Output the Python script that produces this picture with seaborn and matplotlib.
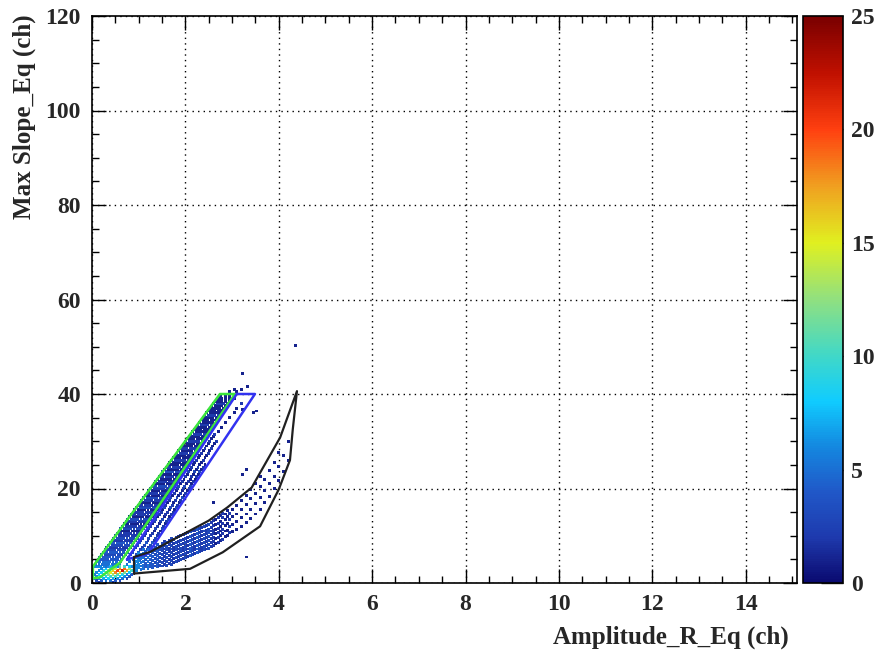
import numpy as np
import pandas as pd
import matplotlib
matplotlib.use("Agg")
import matplotlib.pyplot as plt
import seaborn as sns
from matplotlib.colors import LinearSegmentedColormap, Normalize
from matplotlib.cm import ScalarMappable
from matplotlib.ticker import MultipleLocator

# ---------------- data ----------------
# main (diagonal) band: one row per Max-Slope bin, amplitudes of the filled cells
main_y_levels = [3.5, 4.0, 4.5, 5.0, 5.5, 6.0, 6.5, 7.0, 7.5, 8.0, 8.5, 9.0, 9.5, 10.0,
                 10.5, 11.0, 11.5, 12.0, 12.5, 13.0, 13.5, 14.0, 14.5, 15.0, 15.5,
                 16.0, 16.5, 17.0, 17.5, 18.0, 18.5, 19.0, 19.5, 20.0, 20.5, 21.0,
                 21.5, 22.0, 22.5, 23.0, 23.5, 24.0, 24.5, 25.0,
                 25.5, 26.0, 26.5, 27.0, 27.5, 28.0, 28.5, 29.0, 29.5, 30.0,
                 30.5, 31.0, 31.5, 32.0, 32.5, 33.0, 33.5, 34.0, 34.5, 35.0, 35.5,
                 36.0, 36.5, 37.0, 37.5, 38.0, 38.5, 39.0, 39.5, 40.0, 40.5, 41.0]
main_x_rows = [
    [0.05, 0.12, 0.19, 0.26, 0.33, 0.40, 0.47, 0.56, 0.70, 0.85],
    [0.08, 0.15, 0.22, 0.29, 0.36, 0.43, 0.50, 0.60, 0.75, 0.92],
    [0.10, 0.17, 0.24, 0.31, 0.38, 0.45, 0.52, 0.62, 0.80, 0.98],
    [0.13, 0.20, 0.27, 0.34, 0.41, 0.48, 0.55, 0.64, 0.75, 0.88, 1.02],
    [0.17, 0.24, 0.31, 0.38, 0.45, 0.52, 0.59, 0.68, 0.78, 0.92, 1.08],
    [0.21, 0.28, 0.35, 0.42, 0.49, 0.56, 0.63, 0.72, 0.82, 0.95, 1.12],
    [0.25, 0.32, 0.39, 0.46, 0.53, 0.60, 0.67, 0.76, 0.86, 1.00, 1.15],
    [0.28, 0.35, 0.42, 0.49, 0.56, 0.63, 0.70, 0.79, 0.90, 1.04, 1.18],
    [0.32, 0.39, 0.46, 0.53, 0.60, 0.67, 0.74, 0.83, 0.94, 1.08, 1.22],
    [0.36, 0.43, 0.50, 0.57, 0.64, 0.71, 0.78, 0.87, 0.98, 1.12, 1.26],
    [0.40, 0.47, 0.54, 0.61, 0.68, 0.75, 0.82, 0.90, 1.02, 1.16, 1.30],
    [0.43, 0.50, 0.57, 0.64, 0.71, 0.78, 0.85, 0.93, 1.05, 1.20, 1.33],
    [0.47, 0.54, 0.61, 0.68, 0.75, 0.82, 0.89, 0.97, 1.08, 1.22, 1.36],
    [0.51, 0.58, 0.65, 0.72, 0.79, 0.86, 0.93, 1.00, 1.12, 1.26, 1.40],
    [0.55, 0.62, 0.69, 0.76, 0.83, 0.90, 0.97, 1.04, 1.15, 1.30, 1.43],
    [0.58, 0.65, 0.72, 0.79, 0.86, 0.93, 1.00, 1.07, 1.18, 1.33, 1.46],
    [0.62, 0.69, 0.76, 0.83, 0.90, 0.97, 1.04, 1.11, 1.22, 1.36, 1.50],
    [0.66, 0.73, 0.80, 0.87, 0.94, 1.01, 1.08, 1.15, 1.26, 1.40, 1.53],
    [0.70, 0.77, 0.84, 0.91, 0.98, 1.05, 1.12, 1.19, 1.30, 1.44, 1.57],
    [0.73, 0.80, 0.87, 0.94, 1.01, 1.08, 1.15, 1.22, 1.33, 1.47, 1.60],
    [0.77, 0.84, 0.91, 0.98, 1.05, 1.12, 1.19, 1.26, 1.37, 1.50, 1.64],
    [0.81, 0.88, 0.95, 1.02, 1.09, 1.16, 1.23, 1.30, 1.40, 1.55, 1.67],
    [0.85, 0.92, 0.99, 1.06, 1.13, 1.20, 1.27, 1.34, 1.44, 1.58, 1.70],
    [0.88, 0.95, 1.02, 1.09, 1.16, 1.23, 1.30, 1.37, 1.48, 1.62, 1.74],
    [0.92, 0.99, 1.06, 1.13, 1.20, 1.27, 1.34, 1.41, 1.52, 1.65, 1.77],
    [0.96, 1.03, 1.10, 1.17, 1.24, 1.31, 1.38, 1.44, 1.55, 1.68, 1.80],
    [1.00, 1.07, 1.14, 1.21, 1.28, 1.35, 1.42, 1.48, 1.58, 1.72, 1.84],
    [1.03, 1.10, 1.17, 1.24, 1.31, 1.38, 1.45, 1.51, 1.62, 1.75, 1.87],
    [1.07, 1.14, 1.21, 1.28, 1.35, 1.42, 1.49, 1.55, 1.66, 1.79, 1.90],
    [1.11, 1.18, 1.25, 1.32, 1.39, 1.46, 1.53, 1.58, 1.69, 1.82, 1.94],
    [1.15, 1.22, 1.29, 1.36, 1.43, 1.50, 1.57, 1.62, 1.72, 1.86, 1.97],
    [1.18, 1.25, 1.32, 1.39, 1.46, 1.53, 1.60, 1.65, 1.76, 1.89, 2.00],
    [1.22, 1.29, 1.36, 1.43, 1.50, 1.57, 1.64, 1.69, 1.80, 1.93, 2.04],
    [1.26, 1.33, 1.40, 1.47, 1.54, 1.61, 1.68, 1.72, 1.83, 1.96, 2.08],
    [1.30, 1.37, 1.44, 1.51, 1.58, 1.65, 1.72, 1.76, 1.86, 1.99, 2.11],
    [1.33, 1.40, 1.47, 1.54, 1.61, 1.68, 1.75, 1.79, 1.90, 2.03, 2.14],
    [1.37, 1.44, 1.51, 1.58, 1.65, 1.72, 1.79, 1.83, 1.93, 2.06, 2.18],
    [1.41, 1.48, 1.55, 1.62, 1.69, 1.76, 1.83, 1.86, 1.97, 2.10, 2.21],
    [1.45, 1.52, 1.59, 1.66, 1.73, 1.80, 1.87, 1.90, 2.00, 2.13, 2.24],
    [1.48, 1.55, 1.62, 1.69, 1.76, 1.83, 1.90, 1.93, 2.04, 2.17, 2.28],
    [1.52, 1.59, 1.66, 1.73, 1.80, 1.87, 1.94, 1.97, 2.07, 2.20, 2.31],
    [1.56, 1.63, 1.70, 1.77, 1.84, 1.91, 1.97, 2.00, 2.11, 2.24, 2.35],
    [1.60, 1.67, 1.74, 1.81, 1.88, 1.95, 2.01, 2.04, 2.14, 2.27, 2.38],
    [1.63, 1.70, 1.77, 1.84, 1.91, 1.98, 2.04, 2.07, 2.18, 2.31, 2.42],
    [1.67, 1.74, 1.81, 1.88, 1.95, 2.02, 2.08, 2.20, 2.34],
    [1.71, 1.78, 1.85, 1.92, 1.99, 2.06, 2.12, 2.24, 2.38],
    [1.74, 1.81, 1.88, 1.95, 2.02, 2.09, 2.15, 2.28, 2.42],
    [1.78, 1.85, 1.92, 1.99, 2.06, 2.13, 2.19, 2.31, 2.45],
    [1.82, 1.89, 1.96, 2.03, 2.10, 2.17, 2.22, 2.35, 2.49],
    [1.86, 1.93, 2.00, 2.07, 2.14, 2.21, 2.26, 2.38, 2.52],
    [1.89, 1.96, 2.03, 2.10, 2.17, 2.24, 2.29, 2.42, 2.56],
    [1.93, 2.00, 2.07, 2.14, 2.21, 2.28, 2.33, 2.45, 2.59],
    [1.97, 2.04, 2.11, 2.18, 2.25, 2.32, 2.36, 2.49, 2.62],
    [2.01, 2.08, 2.15, 2.22, 2.29, 2.36, 2.40, 2.52, 2.66],
    [2.04, 2.11, 2.18, 2.25, 2.32, 2.39, 2.56],
    [2.08, 2.15, 2.22, 2.29, 2.36, 2.43, 2.60],
    [2.12, 2.19, 2.26, 2.33, 2.40, 2.47, 2.63],
    [2.16, 2.23, 2.30, 2.37, 2.44, 2.50, 2.70],
    [2.19, 2.26, 2.33, 2.40, 2.47, 2.54],
    [2.23, 2.30, 2.37, 2.44, 2.51, 2.58, 2.78],
    [2.27, 2.34, 2.41, 2.48, 2.55, 2.62],
    [2.31, 2.38, 2.45, 2.52, 2.59, 2.66, 2.85],
    [2.34, 2.41, 2.48, 2.55, 2.62, 2.69],
    [2.38, 2.45, 2.52, 2.59, 2.66, 2.73, 2.95],
    [2.42, 2.49, 2.56, 2.63, 2.70, 2.77],
    [2.46, 2.53, 2.60, 2.67, 2.74, 2.81, 3.05],
    [2.49, 2.56, 2.63, 2.70, 2.78],
    [2.53, 2.60, 2.67, 2.74, 2.82, 3.10],
    [2.57, 2.64, 2.71, 2.78, 2.86],
    [2.61, 2.68, 2.75, 2.82, 2.90, 3.20],
    [2.64, 2.71, 2.78, 2.86, 2.94],
    [2.70, 2.78, 2.86, 2.95, 3.05],
    [2.75, 2.85, 2.95, 3.05],
    [2.82, 2.92, 3.02, 3.12],
    [2.95, 3.10],
    [3.05, 3.20],
]
main_counts = [6, 5, 5, 4, 4,
               3, 4, 3, 2, 3, 4, 2, 3, 2,
               2, 1, 3, 2, 1, 2, 3, 1, 2, 2, 1, 3, 2, 1, 2,
               3, 1, 2, 1, 2, 3, 1, 2, 1, 2, 1, 3, 1, 2, 1,
               1, 2, 1, 1, 2, 1, 2, 1, 1, 2,
               1, 1, 2, 1, 1, 1, 2, 1, 1, 1, 2,
               1, 1, 1, 1, 2, 1, 1, 1, 1, 1, 1]

# lower (curved) band: one column per amplitude bin, slopes of the filled cells
low_x_levels = [0.95, 1.00, 1.05, 1.10, 1.15, 1.20, 1.25, 1.30, 1.35, 1.40, 1.45,
                1.50, 1.55, 1.60, 1.65, 1.70, 1.75, 1.80, 1.85, 1.90, 1.95, 2.00,
                2.05, 2.10, 2.15, 2.20, 2.25, 2.30, 2.35, 2.40, 2.45, 2.50, 2.55,
                2.60, 2.65, 2.70, 2.75, 2.80, 2.85, 2.90, 2.95, 3.00, 3.10, 3.20,
                3.30, 3.40, 3.50, 3.60, 3.70, 3.80, 3.90, 4.00, 4.10, 4.20]
low_y_rows = [
    [3.0, 3.8, 4.6, 5.4],
    [3.2, 4.0, 4.8, 5.6, 6.2],
    [2.8, 3.6, 4.4, 5.2, 6.0],
    [3.0, 3.8, 4.6, 5.4, 6.2, 7.0],
    [3.4, 4.2, 5.0, 5.8, 6.6],
    [3.0, 3.8, 4.6, 5.4, 6.2, 7.0],
    [3.4, 4.2, 5.0, 5.8, 6.6, 7.4],
    [3.2, 4.0, 4.8, 5.6, 6.4, 7.2],
    [3.6, 4.4, 5.2, 6.0, 6.8, 7.6],
    [3.4, 4.2, 5.0, 5.8, 6.6, 7.4, 8.2],
    [3.8, 4.6, 5.4, 6.2, 7.0, 7.8],
    [3.6, 4.4, 5.2, 6.0, 6.8, 7.6, 8.4],
    [4.0, 4.8, 5.6, 6.4, 7.2, 8.0, 8.8],
    [3.8, 4.6, 5.4, 6.2, 7.0, 7.8, 8.6],
    [4.2, 5.0, 5.8, 6.6, 7.4, 8.2, 9.0],
    [4.0, 4.8, 5.6, 6.4, 7.2, 8.0, 8.8, 9.4],
    [4.4, 5.2, 6.0, 6.8, 7.6, 8.4, 9.2],
    [4.6, 5.4, 6.2, 7.0, 7.8, 8.6, 9.6],
    [4.8, 5.6, 6.4, 7.2, 8.0, 8.8, 9.8],
    [5.0, 5.8, 6.6, 7.4, 8.2, 9.0, 10.0],
    [5.2, 6.0, 6.8, 7.6, 8.4, 9.2, 10.2],
    [5.4, 6.2, 7.0, 7.8, 8.6, 9.4, 10.4],
    [5.6, 6.4, 7.2, 8.0, 8.8, 9.6, 10.6],
    [5.8, 6.6, 7.4, 8.2, 9.0, 9.8, 10.8],
    [6.0, 6.8, 7.6, 8.4, 9.2, 10.0, 11.0],
    [6.2, 7.0, 7.8, 8.6, 9.4, 10.2, 11.2],
    [6.4, 7.2, 8.0, 8.8, 9.6, 10.4, 11.4],
    [6.6, 7.4, 8.2, 9.0, 9.8, 10.6, 11.6],
    [6.8, 7.6, 8.4, 9.2, 10.0, 10.8, 11.8],
    [7.0, 7.8, 8.6, 9.4, 10.2, 11.0, 12.0],
    [7.2, 8.0, 8.8, 9.6, 10.4, 11.2, 12.2],
    [7.4, 8.2, 9.0, 9.8, 10.6, 11.4, 12.4],
    [7.8, 8.6, 9.4, 10.2, 11.0, 11.8, 12.8],
    [8.0, 8.8, 9.6, 10.4, 11.2, 12.2, 13.2],
    [8.4, 9.4, 10.4, 11.4, 12.4, 13.4],
    [8.6, 9.6, 10.6, 11.6, 12.6, 13.8],
    [9.0, 10.0, 11.0, 12.0, 13.0, 14.2],
    [9.2, 10.4, 11.4, 12.6, 13.8, 14.8],
    [9.8, 11.0, 12.2, 13.4, 14.6],
    [10.0, 11.2, 12.6, 14.0, 15.4],
    [10.6, 12.0, 13.4, 14.8],
    [10.8, 12.4, 14.0, 15.6],
    [11.4, 13.0, 14.6, 16.4],
    [12.0, 13.8, 15.6, 17.4],
    [12.8, 14.6, 16.6, 18.6],
    [13.6, 15.6, 17.8, 19.8],
    [14.6, 16.8, 19.0, 21.0],
    [15.6, 18.0, 20.4, 22.6],
    [17.0, 19.6, 22.0],
    [18.4, 21.0, 23.8],
    [20.0, 22.6, 25.6],
    [21.6, 24.6, 27.6],
    [23.6, 27.0],
    [26.0, 30.0],
]
low_counts = [6, 6, 5, 5, 4, 5, 4, 4, 3, 4, 3,
              3, 2, 3, 2, 3, 2, 3, 2, 3, 2, 3,
              2, 4, 3, 2, 4, 3, 2, 3, 2, 3, 2,
              2, 1, 2, 1, 2, 1, 1, 2, 1, 1, 1,
              1, 1, 1, 1, 1, 1, 1, 1, 1, 1]

# hot spot near the origin (drawn last)
hot_x = [0.15, 0.30, 0.45,
         0.10, 0.20, 0.30, 0.40, 0.50, 0.60,
         0.05, 0.15, 0.25, 0.35, 0.45, 0.55, 0.65, 0.75,
         0.10, 0.20, 0.30, 0.40, 0.50, 0.60, 0.70, 0.80,
         0.05, 0.15, 0.25, 0.35, 0.45, 0.55, 0.65, 0.75, 0.85,
         0.10, 0.20, 0.30, 0.40, 0.50, 0.60, 0.70, 0.80, 0.90,
         0.15, 0.25, 0.35, 0.45, 0.55, 0.65, 0.75, 0.85, 0.95,
         0.20, 0.30, 0.40, 0.50, 0.60, 0.70, 0.80, 0.90,
         0.30, 0.40, 0.50, 0.60, 0.70, 0.80, 0.90]
hot_y = [0.2, 0.2, 0.2,
         0.6, 0.6, 0.6, 0.6, 0.6, 0.6,
         1.0, 1.0, 1.0, 1.0, 1.0, 1.0, 1.0, 1.0,
         1.4, 1.4, 1.4, 1.4, 1.4, 1.4, 1.4, 1.4,
         1.8, 1.8, 1.8, 1.8, 1.8, 1.8, 1.8, 1.8, 1.8,
         2.2, 2.2, 2.2, 2.2, 2.2, 2.2, 2.2, 2.2, 2.2,
         2.6, 2.6, 2.6, 2.6, 2.6, 2.6, 2.6, 2.6, 2.6,
         3.0, 3.0, 3.0, 3.0, 3.0, 3.0, 3.0, 3.0,
         3.4, 3.4, 3.4, 3.4, 3.4, 3.4, 3.4]
hot_n = [2, 3, 2,
         3, 4, 5, 5, 4, 3,
         4, 6, 7, 8, 7, 6, 5, 3,
         6, 8, 9, 10, 10, 8, 6, 4,
         5, 8, 10, 12, 13, 11, 9, 6, 4,
         6, 8, 11, 15, 18, 16, 12, 8, 5,
         6, 9, 12, 16, 20, 22, 17, 10, 6,
         6, 8, 11, 14, 18, 19, 13, 8,
         5, 7, 9, 11, 10, 8, 6]

# isolated entries
stray_x = [3.23, 3.34, 3.23, 3.53, 3.23, 3.30, 4.35, 3.30, 2.60, 3.45]
stray_y = [44.3, 41.5, 36.8, 36.4, 23.0, 24.0, 50.2, 5.5, 17.0, 36.0]
stray_n = [1, 1, 1, 1, 1, 1, 1, 1, 1, 1]

# graphical cuts
green_x = [0.02, 0.02, 2.74, 3.06, 0.60, 0.17, 0.02]
green_y = [1.0, 3.5, 40.0, 40.0, 4.3, 1.2, 1.0]
blue_x = [0.75, 3.10, 3.49, 1.20, 0.75]
blue_y = [5.0, 40.0, 40.0, 6.2, 5.0]
black_x = [0.90, 2.10, 2.80, 3.60, 4.00, 4.24, 4.30, 4.39, 4.03, 3.42, 2.90,
           2.50, 1.25, 0.90, 0.90]
black_y = [2.0, 3.0, 6.5, 12.0, 19.8, 26.0, 32.5, 40.6, 30.8, 20.2, 16.0,
           13.2, 6.6, 5.5, 2.0]

x_ticks = [0, 2, 4, 6, 8, 10, 12, 14]
y_ticks = [0, 20, 40, 60, 80, 100, 120]
z_ticks = [0, 5, 10, 15, 20, 25]

# ---------------- build table ----------------
xs, ys, ns = [], [], []
for yv, row, c in zip(main_y_levels, main_x_rows, main_counts):
    for xv in row:
        xs.append(xv); ys.append(yv); ns.append(c)
for xv, col, c in zip(low_x_levels, low_y_rows, low_counts):
    for yv in col:
        xs.append(xv); ys.append(yv); ns.append(c)
xs += stray_x + hot_x
ys += stray_y + hot_y
ns += stray_n + hot_n
df = pd.DataFrame({"amp": xs, "slope": ys, "count": ns})

# ---------------- style ----------------
sns.set_theme(style="white")
plt.rcParams["font.family"] = ["Liberation Serif", "DejaVu Serif"]
plt.rcParams["font.weight"] = "bold"

palette_colors = [
    (0.00, "#0a0a70"), (0.04, "#15228e"), (0.08, "#1e3aae"), (0.16, "#2058c8"),
    (0.24, "#1488e0"), (0.32, "#10ccff"), (0.40, "#40d8c8"), (0.50, "#90e080"),
    (0.60, "#e0f020"), (0.70, "#f0a020"), (0.80, "#ff4010"), (0.90, "#c01000"),
    (1.00, "#7a0000"),
]
cmap = LinearSegmentedColormap.from_list("rootrainbow", palette_colors)
norm = Normalize(0, 25)

W, H = 881, 652
fig = plt.figure(figsize=(W / 100, H / 100), dpi=100)
fig.patch.set_facecolor("white")
ax = fig.add_axes([92 / W, (H - 583) / H, (797 - 92) / W, (583 - 16) / H])
cax = fig.add_axes([803 / W, (H - 583) / H, 40 / W, (583 - 16) / H])

sns.scatterplot(data=df, x="amp", y="slope", hue="count", palette=cmap,
                hue_norm=norm, marker="s", s=4.5, linewidth=0, legend=False, ax=ax)

ax.plot(green_x, green_y, color="#3ce63c", lw=1.8)
ax.plot(blue_x, blue_y, color="#3232f0", lw=1.8)
ax.plot(black_x, black_y, color="#202020", lw=1.6)

ax.set_xlim(0, 15.1)
ax.set_ylim(0, 120)
ax.set_xticks(x_ticks)
ax.set_yticks(y_ticks)
ax.xaxis.set_minor_locator(MultipleLocator(0.5))
ax.yaxis.set_minor_locator(MultipleLocator(5))
ax.tick_params(which="both", direction="in", top=True, right=True,
               bottom=True, left=True, color="black", width=1.0)
ax.tick_params(which="major", length=10, labelsize=17)
ax.tick_params(which="minor", length=5)
ax.tick_params(axis="x", which="major", pad=8)
ax.tick_params(axis="y", which="major", pad=8)
for lab in ax.get_xticklabels() + ax.get_yticklabels():
    lab.set_fontweight("bold")
ax.grid(True, which="major", color="black", linestyle=(0, (1, 3)), linewidth=1.0)
for sp in ax.spines.values():
    sp.set_color("black"); sp.set_linewidth(1.2); sp.set_visible(True)

ax.set_xlabel("Amplitude_R_Eq (ch)", fontsize=18, fontweight="bold", loc="right")
ax.set_ylabel("Max Slope_Eq (ch)", fontsize=18, fontweight="bold", loc="top")
ax.xaxis.set_label_coords(0.988, -0.075)
ax.yaxis.set_label_coords(-0.080, 1.002)

cb = fig.colorbar(ScalarMappable(norm=norm, cmap=cmap), cax=cax)
cb.set_ticks(z_ticks)
cb.outline.set_linewidth(1.2)
cb.outline.set_edgecolor("black")
cax.tick_params(direction="in", length=16, width=1.0, labelsize=17, pad=6, color="#202020")
for lab in cax.get_yticklabels():
    lab.set_fontweight("bold")

fig.savefig("out.png", dpi=100, facecolor="white")
